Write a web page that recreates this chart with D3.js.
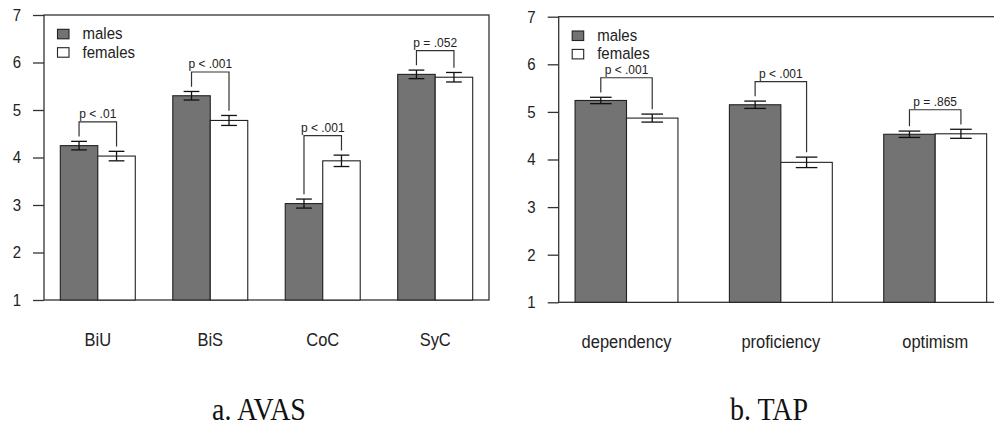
<!DOCTYPE html>
<html>
<head>
<meta charset="utf-8">
<title>AVAS / TAP by gender</title>
<script src="https://d3js.org/d3.v7.min.js"></script>
<style>
  body { margin: 0; background: #fff; }
  svg { display: block; }
  .sans { font-family: "Liberation Sans", Arial, Helvetica, sans-serif; fill: #222; }
  .serif { font-family: "Liberation Serif", "Times New Roman", serif; fill: #111; }
</style>
</head>
<body>
<svg id="chart" width="994" height="427"></svg>
<script>
// ---- data ----
var seriesNames = ["males", "females"];
var yTicks = [1, 2, 3, 4, 5, 6, 7];

var avasCats = ["BiU", "BiS", "CoC", "SyC"];
var avasMales = [4.25, 5.30, 3.03, 5.75];
var avasFemales = [4.03, 4.78, 3.93, 5.69];
var avasMalesErr = [0.09, 0.09, 0.095, 0.09];
var avasFemalesErr = [0.10, 0.105, 0.12, 0.10];
var avasP = ["p < .01", "p < .001", "p < .001", "p = .052"];

var tapCats = ["dependency", "proficiency", "optimism"];
var tapMales = [5.24, 5.15, 4.53];
var tapFemales = [4.87, 3.94, 4.54];
var tapMalesErr = [0.067, 0.077, 0.067];
var tapFemalesErr = [0.084, 0.11, 0.095];
var tapP = ["p < .001", "p < .001", "p = .865"];

var svg = d3.select("#chart");
var stretch = "scale(1,1.12)";   // the source image is a bit taller than wide
var fillColor = { males: "#737373", females: "#ffffff" };

function drawPanel(p) {
  var g = svg.append("g");

  var ys = d3.scaleLinear().domain([1, 7]).range([p.y1, p.y0]);
  var xs = d3.scaleBand().domain(p.cats).range([p.x0, p.x1])
             .paddingInner(1 / 3).paddingOuter(p.po);
  var xin = d3.scaleBand().domain(seriesNames).range([0, xs.bandwidth()]);
  var bw = xin.bandwidth();

  var rows = p.cats.map(function (c, i) {
    return { cat: c, p: p.pv[i],
      vals: [
        { s: "males", v: p.males[i], e: p.mErr[i] },
        { s: "females", v: p.females[i], e: p.fErr[i] }
      ] };
  });

  // box
  g.append("rect")
    .attr("x", p.x0).attr("y", p.y0)
    .attr("width", p.x1 - p.x0).attr("height", p.y1 - p.y0)
    .attr("fill", "none").attr("stroke", "#333").attr("stroke-width", 1.3);

  // bars
  var grp = g.selectAll(".grp").data(rows).enter().append("g")
    .attr("transform", function (d) { return "translate(" + xs(d.cat) + ",0)"; });

  grp.selectAll("rect").data(function (d) { return d.vals; }).enter().append("rect")
    .attr("x", function (d) { return xin(d.s); })
    .attr("y", function (d) { return ys(d.v); })
    .attr("width", bw)
    .attr("height", function (d) { return ys(1) - ys(d.v); })
    .attr("fill", function (d) { return fillColor[d.s]; })
    .attr("stroke", "#222").attr("stroke-width", 1.1);

  // error bars
  var cap = bw * 0.21;
  var eb = grp.selectAll(".eb").data(function (d) { return d.vals; }).enter().append("g")
    .attr("stroke", "#111").attr("stroke-width", 1.3);
  eb.append("line")
    .attr("x1", function (d) { return xin(d.s) + bw / 2; })
    .attr("x2", function (d) { return xin(d.s) + bw / 2; })
    .attr("y1", function (d) { return ys(d.v - d.e); })
    .attr("y2", function (d) { return ys(d.v + d.e); });
  eb.append("line")
    .attr("x1", function (d) { return xin(d.s) + bw / 2 - cap; })
    .attr("x2", function (d) { return xin(d.s) + bw / 2 + cap; })
    .attr("y1", function (d) { return ys(d.v + d.e); })
    .attr("y2", function (d) { return ys(d.v + d.e); });
  eb.append("line")
    .attr("x1", function (d) { return xin(d.s) + bw / 2 - cap; })
    .attr("x2", function (d) { return xin(d.s) + bw / 2 + cap; })
    .attr("y1", function (d) { return ys(d.v - d.e); })
    .attr("y2", function (d) { return ys(d.v - d.e); });

  // significance brackets
  grp.append("path")
    .attr("fill", "none").attr("stroke", "#333").attr("stroke-width", 1.2)
    .attr("d", function (d) {
      var a = d.vals[0], b = d.vals[1];
      var top = ys(Math.max(a.v + a.e, b.v + b.e) + 0.41);
      var xa = xin("males") + bw / 2, xb = xin("females") + bw / 2;
      return "M" + xa + "," + ys(a.v + a.e + 0.1) + "V" + top +
             "H" + xb + "V" + ys(b.v + b.e + 0.1);
    });
  grp.append("text").attr("class", "sans")
    .attr("text-anchor", "middle").style("font-size", "12px")
    .attr("transform", function (d) {
      var a = d.vals[0], b = d.vals[1];
      var top = ys(Math.max(a.v + a.e, b.v + b.e) + 0.41);
      return "translate(" + xs.bandwidth() / 2 + "," + (top - 4) + ") " + stretch;
    })
    .text(function (d) { return d.p; });

  // y axis
  var yAxis = d3.axisLeft(ys).tickValues(yTicks).tickFormat(d3.format("d"))
                .tickSize(11).tickPadding(12);
  var ya = g.append("g").attr("transform", "translate(" + p.x0 + ",0)").call(yAxis);
  ya.select(".domain").remove();
  ya.selectAll("line").attr("stroke", "#333").attr("stroke-width", 1.3);
  ya.selectAll("text").attr("class", "sans").style("font-size", "15px")
    .attr("fill", "#222").attr("transform", stretch);

  // category labels
  var xAxis = d3.axisBottom(xs).tickSize(0).tickPadding(0);
  var xa = g.append("g").attr("transform", "translate(0," + p.y1 + ")").call(xAxis);
  xa.select(".domain").remove();
  xa.selectAll("text").attr("class", "sans").style("font-size", "16.5px")
    .attr("fill", "#222").attr("y", 0).attr("dy", 0)
    .attr("transform", "translate(0,46) " + stretch);

  // legend
  var lg = g.selectAll(".lg").data(seriesNames).enter().append("g")
    .attr("transform", function (d, i) {
      return "translate(" + (p.x0 + 13.5) + "," + (p.y0 + 14.3 + i * 18.4) + ")";
    });
  lg.append("rect").attr("width", 11.5).attr("height", 9.5)
    .attr("fill", function (d) { return fillColor[d]; })
    .attr("stroke", "#222").attr("stroke-width", 1.1);
  lg.append("text").attr("class", "sans").style("font-size", "15px")
    .attr("transform", "translate(25,10) " + stretch)
    .text(function (d) { return d; });

  // caption
  svg.append("text").attr("class", "serif").attr("text-anchor", "middle")
    .style("font-size", "28px")
    .attr("transform", "translate(" + p.capX + ",419.5) " + stretch)
    .text(p.caption);
}

drawPanel({ cats: avasCats, males: avasMales, females: avasFemales,
  mErr: avasMalesErr, fErr: avasFemalesErr, pv: avasP,
  x0: 44, x1: 489, y0: 15, y1: 300, po: 0.145, capX: 259, caption: "a. AVAS" });

drawPanel({ cats: tapCats, males: tapMales, females: tapFemales,
  mErr: tapMalesErr, fErr: tapFemalesErr, pv: tapP,
  x0: 558.7, x1: 1003, y0: 16.7, y1: 302.3, po: 0.106, capX: 769, caption: "b. TAP" });
</script>
</body>
</html>
